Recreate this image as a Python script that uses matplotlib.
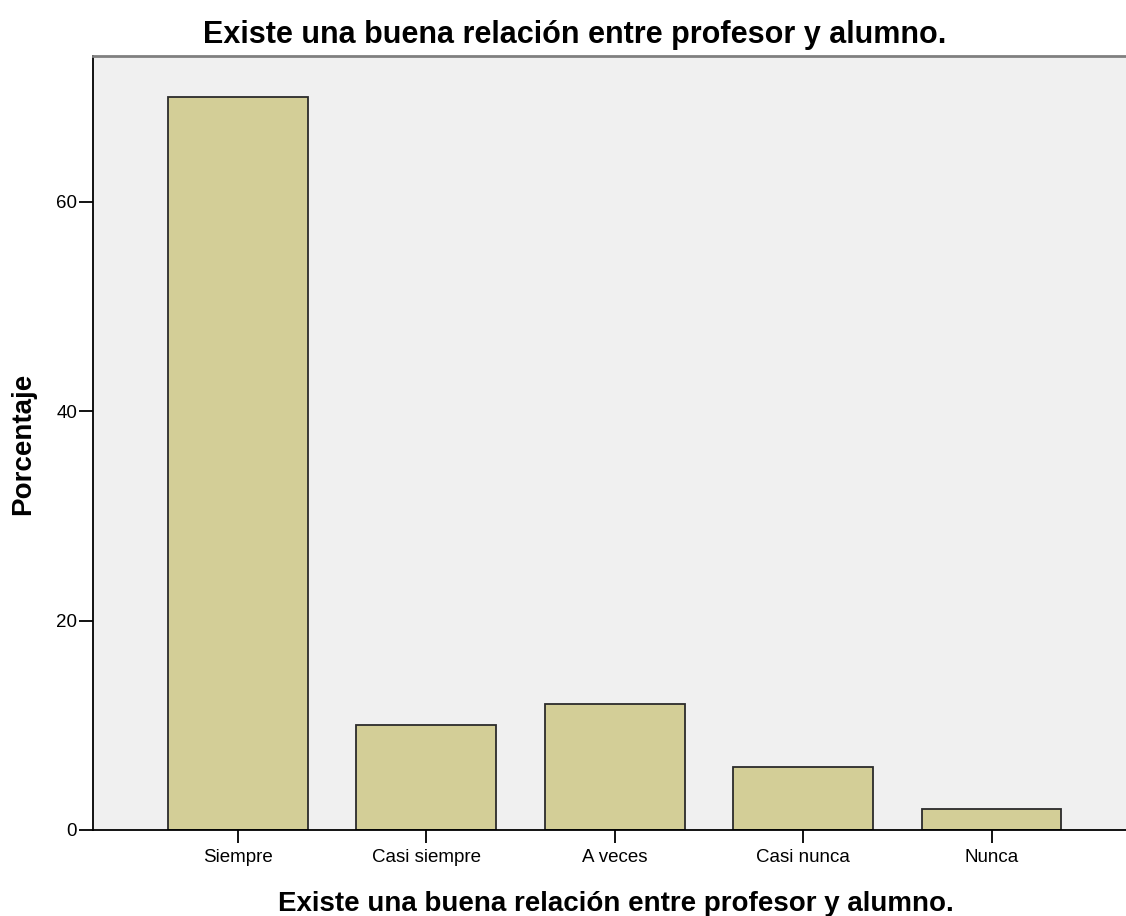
import matplotlib
matplotlib.use("Agg")
import matplotlib.pyplot as plt

categories = ["Siempre", "Casi siempre", "A veces", "Casi nunca", "Nunca"]
percentages = [70, 10, 12, 6, 2]
y_ticks = [0, 20, 40, 60]

title = "Existe una buena relación entre profesor y alumno."

plt.rcParams["font.family"] = ["Liberation Sans", "DejaVu Sans"]

W, H = 1126, 916
fig = plt.figure(figsize=(W / 100, H / 100), dpi=100)
ax = fig.add_axes([93 / W, 86 / H, 1033 / W, 774 / H])
ax.set_facecolor("#f0f0f0")

x = list(range(len(categories)))
ax.bar(x, percentages, width=0.743, color="#d3ce97", edgecolor="#2b2b2b", linewidth=1.3)

ax.set_xlim(-0.770, 4.714)
ax.set_ylim(0, 73.9)
ax.set_xticks(x)
ax.set_xticklabels(categories, fontsize=13.5)
ax.set_yticks(y_ticks)
ax.set_yticklabels([str(v) for v in y_ticks], fontsize=13.5)
ax.tick_params(axis="y", length=10, width=1.3, pad=1.5)
ax.tick_params(axis="x", length=9.5, width=1.3, pad=4)

ax.spines["right"].set_visible(False)
ax.spines["top"].set_color("#808080")
ax.spines["top"].set_linewidth(2)
for side in ["left", "bottom"]:
    ax.spines[side].set_color("black")
    ax.spines[side].set_linewidth(1.3)

# title, x label and y label placed in figure pixels
fig.text(575 / W, 1 - 43 / H, title, fontsize=22, fontweight="bold",
         ha="center", va="baseline")
fig.text(616 / W, 1 - 911 / H, title, fontsize=20, fontweight="bold",
         ha="center", va="baseline")
fig.text(23 / W, 1 - 444 / H, "Porcentaje", fontsize=20, fontweight="bold",
         ha="center", va="center", rotation=90)

fig.savefig("out.png", dpi=100)
